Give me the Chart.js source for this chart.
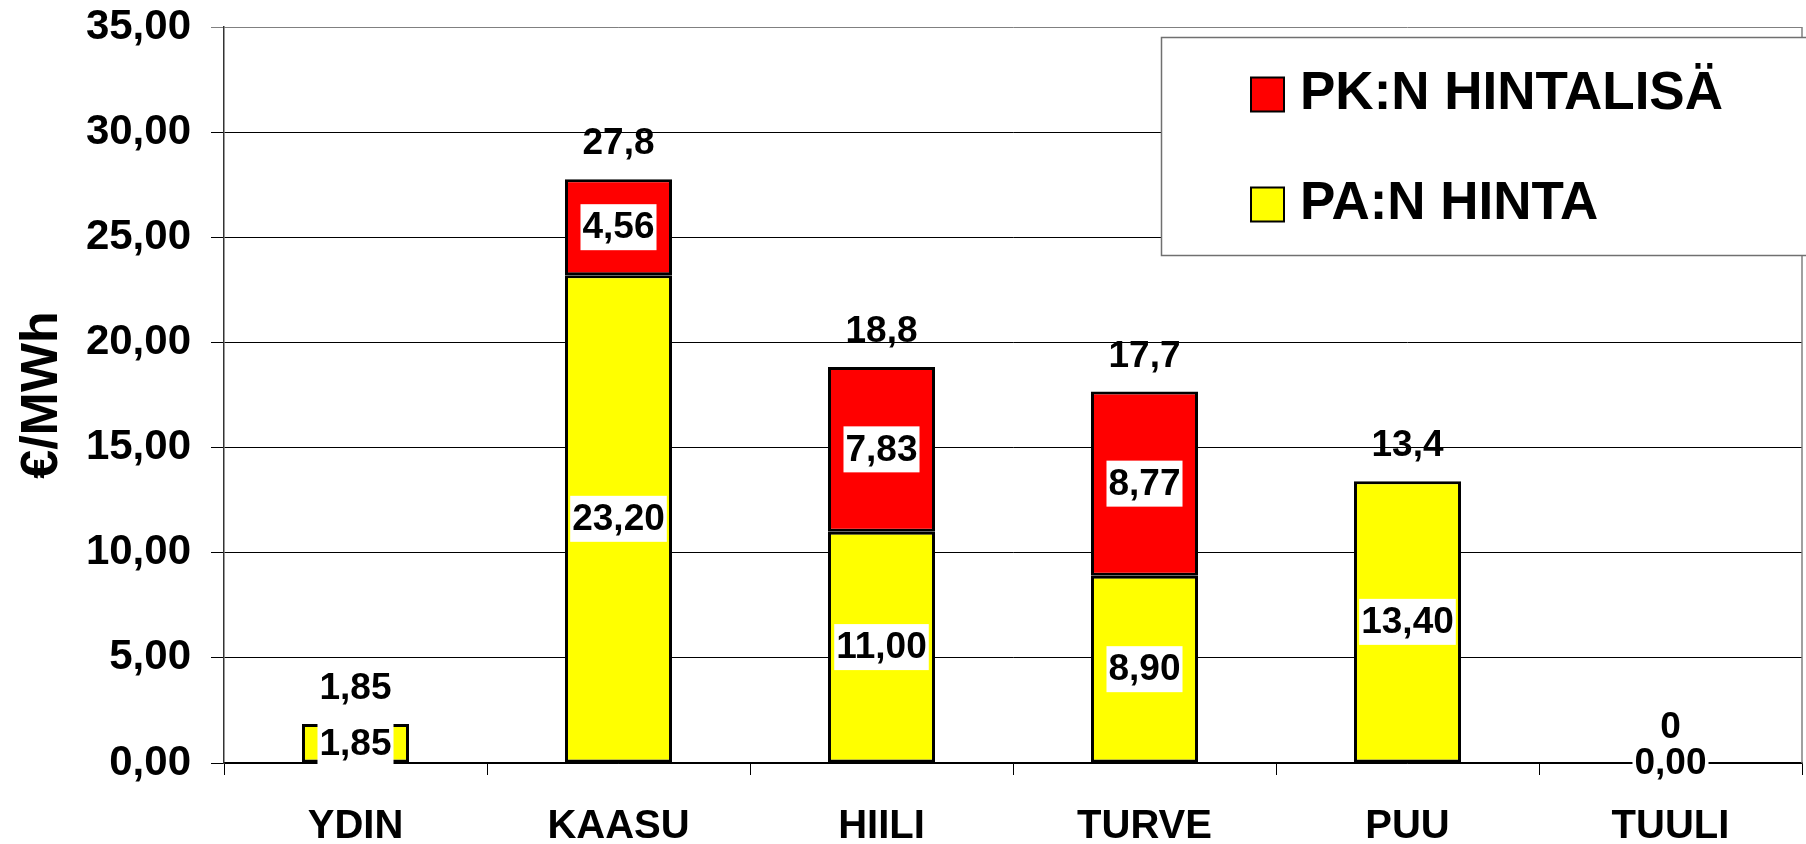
<!DOCTYPE html>
<html><head><meta charset="utf-8">
<script src="https://cdn.jsdelivr.net/npm/chart.js@4.4.1/dist/chart.umd.min.js"></script>
<style>html,body{margin:0;padding:0;background:#fff;}#wrap{width:1806px;height:844px;}</style>
</head><body><div id="wrap"><canvas id="c" width="1806" height="844"></canvas></div>
<script>
const categories = ['YDIN', 'KAASU', 'HIILI', 'TURVE', 'PUU', 'TUULI'];
const paHinta = [1.85, 23.20, 11.00, 8.90, 13.40, 0.00];
const pkHintalisa = [null, 4.56, 7.83, 8.77, null, null];
const seriesPA = 'PA:N HINTA';
const seriesPK = 'PK:N HINTALISÄ';
const yTicks = [0, 5, 10, 15, 20, 25, 30, 35];
const yTitle = '€/MWh';

const FONT = '"Liberation Sans", Arial, sans-serif';
const fmt2 = v => v.toFixed(2).replace('.', ',');
function fmtTotal(v) {
  if (v === 0) return '0';
  let s = v.toPrecision(3);
  if (s.indexOf('.') >= 0) s = s.replace(/0+$/, '').replace(/\.$/, '');
  return s.replace('.', ',');
}

const labelPlugin = {
  id: 'valueLabels',
  beforeDatasetsDraw(chart) {
    const {ctx, chartArea} = chart;
    ctx.save();
    ctx.strokeStyle = '#808080';
    ctx.lineWidth = 1.5;
    ctx.beginPath();
    ctx.moveTo(chartArea.right, chartArea.top);
    ctx.lineTo(chartArea.right, chartArea.bottom);
    ctx.stroke();
    ctx.restore();
  },
  afterDatasetsDraw(chart) {
    const ctx = chart.ctx;
    ctx.save();
    ctx.textAlign = 'center';
    ctx.textBaseline = 'middle';
    ctx.font = 'bold 37px ' + FONT;
    chart.data.datasets.forEach((ds, di) => {
      const meta = chart.getDatasetMeta(di);
      meta.data.forEach((el, i) => {
        const v = ds.data[i];
        if (v === null || v === undefined) return;
        const txt = fmt2(v);
        const p = el.getProps(['x', 'y', 'base'], true);
        const cy = (p.y + p.base) / 2;
        const w = ctx.measureText(txt).width + 4;
        const h = 46;
        ctx.fillStyle = '#fff';
        ctx.fillRect(p.x - w / 2, cy - h / 2, w, h);
        ctx.fillStyle = '#000';
        ctx.fillText(txt, p.x, cy + 1);
      });
    });
    ctx.font = 'bold 37px ' + FONT;
    const ys = chart.scales.y;
    const meta0 = chart.getDatasetMeta(0);
    categories.forEach((c, i) => {
      const total = (paHinta[i] || 0) + (pkHintalisa[i] || 0);
      const x = meta0.data[i].x;
      const y = ys.getPixelForValue(total) - 35;
      ctx.fillStyle = '#000';
      ctx.fillText(fmtTotal(total), x, y);
    });
    ctx.restore();
  },
  afterDraw(chart) {
    const ctx = chart.ctx;
    ctx.save();
    ctx.fillStyle = '#fff';
    ctx.fillRect(1161, 37, 700, 219);
    ctx.strokeStyle = '#707070';
    ctx.lineWidth = 1.5;
    ctx.strokeRect(1161.5, 37.5, 700, 218);
    const items = [
      {name: chart.data.datasets[1].label, color: chart.data.datasets[1].backgroundColor, cy: 94.5},
      {name: chart.data.datasets[0].label, color: chart.data.datasets[0].backgroundColor, cy: 204.5}
    ];
    ctx.font = 'bold 53px ' + FONT;
    ctx.textAlign = 'left';
    ctx.textBaseline = 'middle';
    items.forEach(it => {
      ctx.fillStyle = it.color;
      ctx.fillRect(1251, it.cy - 17, 33, 34);
      ctx.strokeStyle = '#000';
      ctx.lineWidth = 2;
      ctx.strokeRect(1251, it.cy - 17, 33, 34);
      ctx.fillStyle = '#000';
      ctx.fillText(it.name, 1300, it.cy);
    });
    ctx.restore();
  }
};

new Chart(document.getElementById('c'), {
  type: 'bar',
  data: {
    labels: categories,
    datasets: [
      {label: seriesPA, data: paHinta, backgroundColor: '#FFFF00', borderColor: '#000', borderWidth: 3, borderSkipped: false, categoryPercentage: 1, barPercentage: 0.407},
      {label: seriesPK, data: pkHintalisa, backgroundColor: '#FF0000', borderColor: '#000', borderWidth: 3, borderSkipped: false, categoryPercentage: 1, barPercentage: 0.407}
    ]
  },
  options: {
    responsive: false,
    animation: false,
    devicePixelRatio: 1,
    layout: {padding: {top: 27, right: 4, left: 0, bottom: 0}},
    plugins: {legend: {display: false}, tooltip: {enabled: false}},
    scales: {
      x: {
        stacked: true,
        offset: true,
        grid: {display: true, drawOnChartArea: false, drawTicks: true, tickLength: 12, color: '#000', lineWidth: 1},
        border: {display: true, color: '#000', width: 1.5},
        ticks: {color: '#000', font: {family: FONT, size: 40, weight: 'bold'}, padding: 28, maxRotation: 0},
        afterFit: s => { s.height = 81; s.paddingLeft = 0; s.paddingRight = 0; }
      },
      y: {
        stacked: true,
        min: yTicks[0],
        max: yTicks[yTicks.length - 1],
        afterBuildTicks: s => { s.ticks = yTicks.map(v => ({value: v})); },
        ticks: {color: '#000', font: {family: FONT, size: 42, weight: 'bold'}, padding: 20, callback: v => fmt2(v)},
        grid: {color: c => (c.tick && c.tick.value === 35) ? '#808080' : '#000', lineWidth: 1, tickLength: 13},
        border: {display: true, color: '#333', width: 1.5},
        title: {display: true, text: yTitle, color: '#000', font: {family: FONT, size: 52, weight: 'bold'}, padding: {top: 11, bottom: 0}},
        afterFit: s => { s.width = 224; s.paddingTop = 0; s.paddingBottom = 0; }
      }
    }
  },
  plugins: [labelPlugin]
});
</script>
</body></html>
